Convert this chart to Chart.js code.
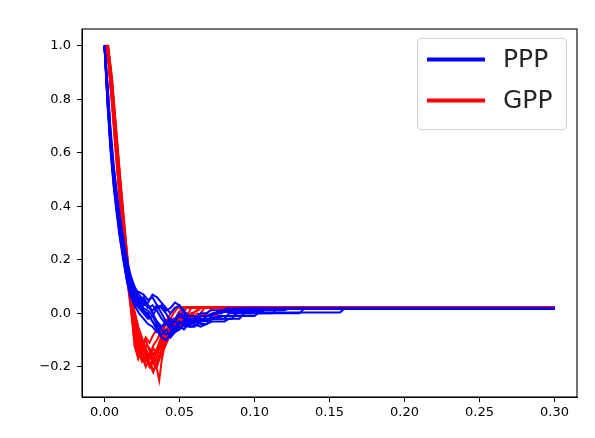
<!DOCTYPE html>
<html>
<head>
<meta charset="utf-8">
<script src="https://cdn.jsdelivr.net/npm/chart.js@4/dist/chart.umd.min.js"></script>
<style>
html,body{margin:0;padding:0;background:#fff;}
#wrap{width:595px;height:438px;}
</style>
</head>
<body>
<div id="wrap"><canvas id="c" width="595" height="438"></canvas></div>
<script>
// ---- data ----
const xTicks = [0, 0.05, 0.10, 0.15, 0.20, 0.25, 0.30];
const xTickLabels = ["0.00","0.05","0.10","0.15","0.20","0.25","0.30"];
const yTicks = [-0.2, 0, 0.2, 0.4, 0.6, 0.8, 1.0];
const yTickLabels = ["\u22120.2","0.0","0.2","0.4","0.6","0.8","1.0"];
const seriesNames = ["PPP", "GPP"];

const ppp1 = [[0,1],[0.002,0.80],[0.004,0.63],[0.006,0.50],[0.008,0.40],[0.010,0.32],[0.0125,0.23],[0.015,0.15],[0.0175,0.11],[0.020,0.08],[0.023,0.05],[0.026,0.06],[0.029,0.03],[0.032,0.00],[0.035,-0.03],[0.038,-0.05],[0.041,-0.04],[0.044,-0.02],[0.047,-0.03],[0.050,-0.04],[0.055,-0.02],[0.060,-0.02],[0.065,-0.01],[0.070,-0.01],[0.075,0.005],[0.095,0.005],[0.098,0.018],[0.30,0.018]];
const ppp2 = [[0,1],[0.002,0.83],[0.004,0.66],[0.006,0.53],[0.008,0.43],[0.010,0.34],[0.0125,0.25],[0.015,0.17],[0.0175,0.10],[0.020,0.06],[0.023,0.08],[0.026,0.07],[0.029,0.05],[0.032,0.06],[0.035,0.03],[0.038,0.00],[0.041,-0.03],[0.044,-0.06],[0.047,-0.05],[0.050,-0.03],[0.054,-0.05],[0.058,-0.04],[0.062,-0.03],[0.066,-0.03],[0.070,-0.02],[0.085,-0.02],[0.088,0.00],[0.130,0.00],[0.133,0.018],[0.30,0.018]];
const ppp3 = [[0,1],[0.002,0.78],[0.004,0.61],[0.006,0.48],[0.008,0.38],[0.010,0.29],[0.0125,0.20],[0.015,0.12],[0.0175,0.07],[0.020,0.04],[0.023,0.02],[0.026,0.00],[0.029,-0.02],[0.032,-0.01],[0.035,-0.04],[0.038,-0.06],[0.041,-0.08],[0.044,-0.07],[0.047,-0.05],[0.050,-0.06],[0.054,-0.04],[0.058,-0.05],[0.062,-0.04],[0.066,-0.02],[0.075,-0.02],[0.078,-0.01],[0.100,-0.01],[0.103,0.003],[0.157,0.003],[0.160,0.018],[0.30,0.018]];
const ppp4 = [[0,1],[0.002,0.85],[0.004,0.68],[0.006,0.55],[0.008,0.45],[0.010,0.36],[0.0125,0.27],[0.015,0.19],[0.0175,0.13],[0.020,0.09],[0.023,0.05],[0.026,0.03],[0.029,0.04],[0.032,0.07],[0.035,0.06],[0.038,0.04],[0.041,0.02],[0.044,0.00],[0.047,0.02],[0.050,0.03],[0.053,0.00],[0.056,-0.02],[0.060,-0.03],[0.064,-0.04],[0.068,-0.04],[0.072,-0.03],[0.080,-0.03],[0.083,-0.02],[0.090,-0.02],[0.093,0.00],[0.112,0.00],[0.115,0.018],[0.30,0.018]];
const ppp5 = [[0,1],[0.002,0.81],[0.004,0.64],[0.006,0.51],[0.008,0.41],[0.010,0.31],[0.0125,0.21],[0.015,0.13],[0.0175,0.08],[0.020,0.05],[0.023,0.03],[0.026,0.01],[0.029,0.00],[0.032,-0.03],[0.035,-0.06],[0.038,-0.09],[0.041,-0.10],[0.044,-0.08],[0.047,-0.06],[0.050,-0.04],[0.053,-0.03],[0.056,-0.05],[0.060,-0.05],[0.064,-0.03],[0.068,-0.01],[0.072,-0.01],[0.076,0.01],[0.085,0.01],[0.088,0.018],[0.30,0.018]];
const ppp6 = [[0,1],[0.002,0.84],[0.004,0.67],[0.006,0.52],[0.008,0.42],[0.010,0.33],[0.0125,0.24],[0.015,0.16],[0.0175,0.11],[0.020,0.07],[0.023,0.06],[0.026,0.04],[0.029,0.02],[0.032,0.03],[0.035,0.01],[0.038,-0.02],[0.041,-0.04],[0.044,-0.05],[0.047,-0.03],[0.050,-0.01],[0.053,-0.02],[0.057,-0.04],[0.061,-0.03],[0.065,-0.02],[0.070,-0.02],[0.073,0.00],[0.078,0.00],[0.081,0.012],[0.105,0.012],[0.108,0.018],[0.30,0.018]];
const ppp7 = [[0,1],[0.002,0.79],[0.004,0.62],[0.006,0.49],[0.008,0.39],[0.010,0.30],[0.0125,0.21],[0.015,0.12],[0.0175,0.06],[0.020,0.03],[0.023,0.00],[0.026,-0.02],[0.029,-0.04],[0.032,-0.05],[0.035,-0.07],[0.038,-0.05],[0.041,-0.03],[0.044,-0.04],[0.047,-0.02],[0.050,0.00],[0.053,-0.01],[0.056,-0.03],[0.060,-0.02],[0.064,0.00],[0.068,0.00],[0.071,0.012],[0.090,0.012],[0.093,0.018],[0.30,0.018]];
const ppp8 = [[0,1],[0.002,0.86],[0.004,0.69],[0.006,0.56],[0.008,0.46],[0.010,0.37],[0.0125,0.28],[0.015,0.20],[0.0175,0.14],[0.020,0.10],[0.023,0.07],[0.026,0.05],[0.029,0.03],[0.032,0.01],[0.035,0.03],[0.038,0.02],[0.041,0.00],[0.044,-0.03],[0.047,-0.07],[0.050,-0.06],[0.053,-0.04],[0.056,-0.02],[0.060,-0.04],[0.064,-0.05],[0.068,-0.04],[0.072,-0.02],[0.080,-0.02],[0.083,0.00],[0.098,0.00],[0.101,0.012],[0.120,0.012],[0.123,0.018],[0.30,0.018]];
const ppp9 = [[0,1],[0.002,0.82],[0.004,0.65],[0.006,0.52],[0.008,0.42],[0.010,0.33],[0.0125,0.23],[0.015,0.15],[0.0175,0.10],[0.020,0.06],[0.023,0.04],[0.026,0.02],[0.029,0.01],[0.032,-0.01],[0.035,0.02],[0.038,0.03],[0.041,0.01],[0.044,0.02],[0.047,0.04],[0.050,0.03],[0.053,0.01],[0.056,-0.01],[0.060,-0.01],[0.064,-0.02],[0.068,-0.03],[0.072,-0.02],[0.076,-0.01],[0.086,-0.01],[0.089,0.005],[0.105,0.005],[0.108,0.018],[0.30,0.018]];
const ppp10 = [[0,1],[0.002,0.80],[0.004,0.64],[0.006,0.50],[0.008,0.40],[0.010,0.31],[0.0125,0.22],[0.015,0.14],[0.0175,0.10],[0.020,0.08],[0.023,0.04],[0.026,0.01],[0.029,-0.01],[0.032,-0.03],[0.035,-0.05],[0.038,-0.08],[0.041,-0.06],[0.044,-0.09],[0.047,-0.07],[0.050,-0.05],[0.053,-0.06],[0.056,-0.04],[0.060,-0.02],[0.064,-0.03],[0.068,-0.01],[0.072,0.00],[0.078,0.00],[0.081,0.018],[0.30,0.018]];

const gpp1 = [[0,1],[0.0025,0.97],[0.005,0.82],[0.0075,0.65],[0.010,0.48],[0.0125,0.32],[0.015,0.18],[0.0175,0.05],[0.020,-0.08],[0.0225,-0.15],[0.025,-0.17],[0.0275,-0.14],[0.030,-0.16],[0.0325,-0.12],[0.035,-0.10],[0.038,-0.06],[0.041,-0.03],[0.044,0.00],[0.047,0.022],[0.30,0.022]];
const gpp2 = [[0,1],[0.0025,0.99],[0.005,0.86],[0.0075,0.69],[0.010,0.52],[0.0125,0.36],[0.015,0.21],[0.0175,0.08],[0.020,-0.02],[0.0225,-0.10],[0.025,-0.14],[0.0275,-0.18],[0.030,-0.15],[0.0325,-0.19],[0.035,-0.16],[0.0375,-0.11],[0.040,-0.07],[0.043,-0.05],[0.046,-0.02],[0.049,-0.03],[0.052,0.00],[0.055,0.022],[0.30,0.022]];
const gpp3 = [[0,1],[0.0025,0.95],[0.005,0.79],[0.0075,0.61],[0.010,0.44],[0.0125,0.28],[0.015,0.15],[0.0175,0.03],[0.020,-0.12],[0.0225,-0.17],[0.025,-0.13],[0.0275,-0.10],[0.030,-0.14],[0.0325,-0.18],[0.035,-0.21],[0.0365,-0.25],[0.038,-0.18],[0.040,-0.12],[0.043,-0.08],[0.046,-0.05],[0.049,-0.02],[0.052,0.01],[0.055,-0.01],[0.058,0.022],[0.30,0.022]];
const gpp4 = [[0,1],[0.0025,0.98],[0.005,0.84],[0.0075,0.67],[0.010,0.50],[0.0125,0.34],[0.015,0.20],[0.0175,0.06],[0.020,-0.04],[0.0225,-0.09],[0.025,-0.12],[0.0275,-0.15],[0.030,-0.19],[0.0325,-0.22],[0.035,-0.18],[0.0375,-0.14],[0.040,-0.09],[0.043,-0.06],[0.046,-0.07],[0.049,-0.04],[0.052,-0.05],[0.055,-0.02],[0.058,0.00],[0.061,-0.02],[0.064,0.00],[0.067,0.022],[0.30,0.022]];
const gpp5 = [[0,1],[0.0025,0.96],[0.005,0.81],[0.0075,0.63],[0.010,0.46],[0.0125,0.30],[0.015,0.16],[0.0175,0.04],[0.020,-0.06],[0.0225,-0.12],[0.025,-0.16],[0.0275,-0.20],[0.030,-0.17],[0.0325,-0.13],[0.035,-0.15],[0.0375,-0.12],[0.040,-0.08],[0.043,-0.04],[0.046,-0.06],[0.049,-0.03],[0.052,-0.01],[0.055,-0.04],[0.058,-0.02],[0.062,0.00],[0.066,-0.01],[0.070,0.01],[0.073,0.022],[0.30,0.022]];
const gpp6 = [[0,1],[0.0025,1.0],[0.005,0.88],[0.0075,0.71],[0.010,0.54],[0.0125,0.38],[0.015,0.22],[0.0175,0.07],[0.020,0.00],[0.0225,-0.07],[0.025,-0.11],[0.0275,-0.13],[0.030,-0.17],[0.0325,-0.15],[0.035,-0.19],[0.0375,-0.16],[0.040,-0.11],[0.043,-0.09],[0.046,-0.05],[0.049,-0.06],[0.052,-0.03],[0.056,-0.01],[0.060,-0.03],[0.064,-0.01],[0.068,0.00],[0.072,-0.02],[0.076,0.00],[0.080,0.022],[0.30,0.022]];
const gpp7 = [[0,1],[0.0025,0.94],[0.005,0.78],[0.0075,0.60],[0.010,0.43],[0.0125,0.27],[0.015,0.13],[0.0175,0.02],[0.020,-0.10],[0.0225,-0.14],[0.025,-0.18],[0.0275,-0.16],[0.030,-0.20],[0.0325,-0.17],[0.035,-0.14],[0.0375,-0.09],[0.040,-0.05],[0.043,-0.02],[0.046,-0.04],[0.049,0.00],[0.052,0.022],[0.30,0.022]];
const gpp8 = [[0,1],[0.0025,0.97],[0.005,0.83],[0.0075,0.66],[0.010,0.49],[0.0125,0.33],[0.015,0.18],[0.0175,0.05],[0.020,-0.05],[0.0225,-0.11],[0.025,-0.15],[0.0275,-0.12],[0.030,-0.13],[0.0325,-0.16],[0.035,-0.13],[0.0375,-0.10],[0.040,-0.13],[0.043,-0.09],[0.046,-0.05],[0.049,-0.02],[0.052,-0.04],[0.055,-0.02],[0.058,0.00],[0.062,0.01],[0.065,0.022],[0.30,0.022]];
const gpp9 = [[0,1],[0.0025,0.99],[0.005,0.87],[0.0075,0.70],[0.010,0.53],[0.0125,0.37],[0.015,0.23],[0.0175,0.09],[0.020,0.01],[0.0225,-0.05],[0.025,-0.09],[0.0275,-0.14],[0.030,-0.18],[0.0325,-0.21],[0.035,-0.20],[0.0375,-0.15],[0.040,-0.10],[0.043,-0.07],[0.046,-0.04],[0.049,-0.05],[0.052,-0.02],[0.055,0.00],[0.058,-0.01],[0.061,0.01],[0.064,0.022],[0.30,0.022]];
const gpp10 = [[0,1],[0.0025,0.95],[0.005,0.80],[0.0075,0.62],[0.010,0.45],[0.0125,0.29],[0.015,0.14],[0.0175,0.03],[0.020,-0.09],[0.0225,-0.16],[0.025,-0.12],[0.0275,-0.09],[0.030,-0.11],[0.0325,-0.08],[0.035,-0.06],[0.0375,-0.09],[0.040,-0.05],[0.043,-0.03],[0.046,0.00],[0.049,0.022],[0.30,0.022]];

const pppRuns = [ppp1, ppp2, ppp3, ppp4, ppp5, ppp6, ppp7, ppp8, ppp9, ppp10];
const gppRuns = [gpp1, gpp2, gpp3, gpp4, gpp5, gpp6, gpp7, gpp8, gpp9, gpp10];

// ---- build chart ----
const BLUE = '#0000ff', RED = '#ff0000';
const datasets = [];
pppRuns.forEach(r => datasets.push({data: r, borderColor: BLUE, borderWidth: 2, pointRadius: 0, tension: 0, fill: false}));
gppRuns.forEach(r => datasets.push({data: r, borderColor: RED, borderWidth: 2, pointRadius: 0, tension: 0, fill: false}));

const FONT = "'DejaVu Sans', sans-serif";

const framePlugin = {
  id: 'frame',
  afterDraw(chart) {
    const {ctx, chartArea: a} = chart;
    ctx.save();
    ctx.strokeStyle = '#000';
    ctx.lineWidth = 1.1;
    ctx.strokeRect(a.left, a.top, a.right - a.left, a.bottom - a.top);
    // legend
    const bx = 417.5, by = 38.5, bw = 149, bh = 91, r = 4;
    ctx.beginPath();
    ctx.moveTo(bx + r, by);
    ctx.lineTo(bx + bw - r, by); ctx.arcTo(bx + bw, by, bx + bw, by + r, r);
    ctx.lineTo(bx + bw, by + bh - r); ctx.arcTo(bx + bw, by + bh, bx + bw - r, by + bh, r);
    ctx.lineTo(bx + r, by + bh); ctx.arcTo(bx, by + bh, bx, by + bh - r, r);
    ctx.lineTo(bx, by + r); ctx.arcTo(bx, by, bx + r, by, r);
    ctx.closePath();
    ctx.fillStyle = 'rgba(255,255,255,0.8)';
    ctx.fill();
    ctx.strokeStyle = '#d0d0d0';
    ctx.lineWidth = 1;
    ctx.stroke();
    const rows = [{name: seriesNames[0], color: BLUE, y: 59.5}, {name: seriesNames[1], color: RED, y: 100.5}];
    rows.forEach(row => {
      ctx.beginPath();
      ctx.strokeStyle = row.color;
      ctx.lineWidth = 4;
      ctx.moveTo(427, row.y); ctx.lineTo(485, row.y);
      ctx.stroke();
      ctx.fillStyle = '#262626';
      ctx.font = "25px " + FONT;
      ctx.textBaseline = 'middle';
      ctx.textAlign = 'left';
      ctx.fillText(row.name, 503, row.y + 1);
    });
    ctx.restore();
  }
};

new Chart(document.getElementById('c'), {
  type: 'line',
  data: {datasets},
  options: {
    responsive: false,
    animation: false,
    events: [],
    layout: {padding: {top: 29, right: 18, left: 0, bottom: 0}},
    plugins: {legend: {display: false}, tooltip: {enabled: false}},
    scales: {
      x: {
        type: 'linear',
        min: -0.015, max: 0.315,
        afterBuildTicks(s) { s.ticks = xTicks.map(v => ({value: v})); },
        afterFit(s) { s.height = 41; },
        grid: {display: true, drawOnChartArea: false, drawTicks: true, tickLength: 5, tickColor: '#000', lineWidth: 1},
        border: {display: true, color: '#000', width: 1},
        ticks: {
          color: '#000', font: {family: FONT, size: 13}, padding: 3, maxRotation: 0, autoSkip: false,
          callback: (v) => { const i = xTicks.findIndex(t => Math.abs(t - v) < 1e-9); return i >= 0 ? xTickLabels[i] : ''; }
        }
      },
      y: {
        type: 'linear',
        min: -0.3125, max: 1.0625,
        afterBuildTicks(s) { s.ticks = yTicks.map(v => ({value: v})); },
        afterFit(s) { s.width = 82; },
        grid: {display: true, drawOnChartArea: false, drawTicks: true, tickLength: 5, tickColor: '#000', lineWidth: 1},
        border: {display: true, color: '#000', width: 1},
        ticks: {
          color: '#000', font: {family: FONT, size: 13}, padding: 6, autoSkip: false,
          callback: (v) => { const i = yTicks.findIndex(t => Math.abs(t - v) < 1e-9); return i >= 0 ? yTickLabels[i] : ''; }
        }
      }
    }
  },
  plugins: [framePlugin]
});
</script>
</body>
</html>
